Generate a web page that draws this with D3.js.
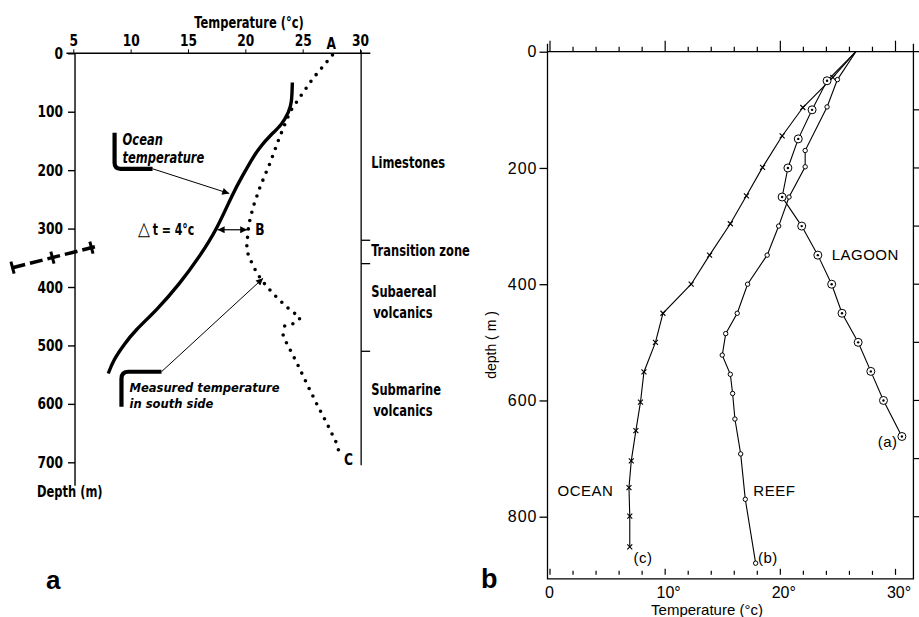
<!DOCTYPE html>
<html>
<head>
<meta charset="utf-8">
<script src="https://cdn.jsdelivr.net/npm/d3@7"></script>
<style>
  body { margin: 0; background: #fff; }
  svg { display: block; }
</style>
</head>
<body>
<div id="chart"></div>
<script>
// ---------- panel a data ----------
const aTempTicks = [5, 10, 15, 20, 25, 30];
const aDepthTicks = [0, 100, 200, 300, 400, 500, 600, 700];

// solid "ocean temperature" curve (temp, depth)
const oceanATemp  = [24.1, 24.05, 23.8, 23.2, 22.2, 21.3, 20.7, 19.8, 18.9, 17.5, 16.0, 14.3, 12.3, 10.4, 9.4, 8.5, 8.05];
const oceanADepth = [50, 85, 100, 122, 140, 160, 177, 208, 240, 302, 348, 394, 439, 474, 499, 525, 548];

// dotted measured temperature, upper part (A -> B -> hook)
const measTemp1  = [27.6, 25.9, 24.8, 23.9, 23.0, 22.15, 21.3, 20.7, 20.4, 20.25, 20.1, 20.7, 21.4, 22.4, 23.6, 24.8, 24.3, 23.2];
const measDepth1 = [3, 43, 74, 100, 143, 188, 228, 262, 285, 302, 337, 365, 388, 411, 434, 453, 462, 468];
// dotted measured temperature, lower part (-> C)
const measTemp2  = [23.3, 23.6, 24.5, 25.35, 26.2, 27.1, 27.95, 28.25];
const measDepth2 = [482, 496, 530, 565, 599, 633, 667, 688];

const zoneBounds = [320, 360, 510];
const zoneLabels = [
  { text: "Limestones", depth: 188 },
  { text: "Transition zone", depth: 338 },
  { text: "Subaereal", depth: 408 },
  { text: "volcanics", depth: 444, indent: 2 },
  { text: "Submarine", depth: 576 },
  { text: "volcanics", depth: 612, indent: 2 }
];
const unconformity = [[-0.3, 367], [7.1, 330]];

// ---------- panel b data ----------
const lagoonTemp  = [26.6, 24.1, 22.8, 21.6, 20.7, 20.2, 21.9, 23.3, 24.5, 25.4, 26.8, 27.9, 29.0, 30.6];
const lagoonDepth = [0, 50, 100, 150, 200, 250, 300, 350, 400, 450, 500, 550, 600, 662];

const reefTemp  = [26.6, 25.0, 24.1, 22.2, 22.2, 20.8, 19.9, 18.9, 17.2, 16.3, 15.3, 15.0, 15.7, 15.9, 16.1, 16.6, 17.0, 17.9];
const reefDepth = [0, 48, 95, 170, 198, 250, 300, 350, 400, 450, 485, 522, 555, 588, 632, 692, 770, 880];

const oceanBTemp  = [26.6, 24.6, 22.0, 20.2, 18.5, 17.1, 15.7, 13.9, 12.3, 9.85, 9.2, 8.2, 7.9, 7.5, 7.1, 6.9, 6.97, 6.97];
const oceanBDepth = [0, 44, 96, 145, 199, 248, 296, 350, 400, 450, 500, 551, 603, 652, 704, 750, 799, 852];

const bTempTicks = d3.range(0, 32, 2);
const bTempLabels = [0, 10, 20, 30];
const bDepthTicks = [0, 200, 400, 600, 800];

const zip = (t, d) => t.map((v, i) => [v, d[i]]);

const W = 919, H = 617;
const narrow = "'Liberation Sans Narrow', 'DejaVu Sans Condensed', 'Arial Narrow', sans-serif";
const sans = "'Liberation Sans', Arial, Helvetica, sans-serif";

const svg = d3.select("#chart").append("svg")
  .attr("width", W).attr("height", H)
  .style("font-family", sans);

const defs = svg.append("defs");
defs.append("marker")
  .attr("id", "arrow")
  .attr("viewBox", "0 0 10 10")
  .attr("refX", 10).attr("refY", 5)
  .attr("markerWidth", 9).attr("markerHeight", 7)
  .attr("markerUnits", "userSpaceOnUse")
  .attr("orient", "auto-start-reverse")
  .append("path").attr("d", "M0,0L10,5L0,10z").attr("fill", "#000");

// ================= PANEL A =================
const xA = d3.scaleLinear().domain([5, 30]).range([73.3, 360]);
const yA = d3.scaleLinear().domain([0, 700]).range([53.3, 462.3]);
const gA = svg.append("g").style("font-family", narrow).style("font-weight", "bold");

// top axis
const topA = gA.append("g")
  .attr("transform", `translate(0,${yA(0)})`)
  .call(d3.axisTop(xA).tickValues(aTempTicks).tickSize(4).tickPadding(3));
topA.select(".domain").remove();
topA.selectAll("text").style("font-size", "16px").style("font-family", narrow).style("font-weight", "bold");
gA.append("line")
  .attr("x1", xA(4.4)).attr("x2", xA(30.9))
  .attr("y1", yA(0)).attr("y2", yA(0))
  .attr("stroke", "#000").attr("stroke-width", 1.4);

gA.append("text")
  .attr("x", 249).attr("y", 28)
  .attr("text-anchor", "middle")
  .style("font-size", "15px")
  .text("Temperature (°c)");

// left axis
const leftA = gA.append("g")
  .attr("transform", `translate(${xA(5.15)},0)`)
  .call(d3.axisLeft(yA).tickValues(aDepthTicks).tickSize(7).tickPadding(5));
leftA.select(".domain").remove();
leftA.selectAll("text").style("font-size", "16px").style("font-family", narrow).style("font-weight", "bold");
leftA.selectAll("line").attr("stroke-width", 1.4);
gA.append("line")
  .attr("x1", xA(5.15)).attr("x2", xA(5.15))
  .attr("y1", yA(0)).attr("y2", yA(740))
  .attr("stroke", "#000").attr("stroke-width", 1.4);

gA.append("text")
  .attr("x", 37).attr("y", 497)
  .style("font-size", "15px")
  .text("Depth (m)");

// right border with geology zones
gA.append("line")
  .attr("x1", xA(30.1)).attr("x2", xA(30.1))
  .attr("y1", yA(0) - 3).attr("y2", yA(705))
  .attr("stroke", "#000").attr("stroke-width", 1.3);
gA.selectAll(".zoneTick")
  .data(zoneBounds)
  .join("line")
  .attr("x1", xA(30.1)).attr("x2", xA(30.1) + 9)
  .attr("y1", d => yA(d)).attr("y2", d => yA(d))
  .attr("stroke", "#000").attr("stroke-width", 1.3);
gA.selectAll(".zoneLabel")
  .data(zoneLabels)
  .join("text")
  .attr("x", d => xA(30.1) + 10 + (d.indent || 0))
  .attr("y", d => yA(d.depth) + 5)
  .style("font-size", "15px")
  .text(d => d.text);

// curves
gA.append("path")
  .datum(zip(oceanATemp, oceanADepth))
  .attr("d", d3.line().x(d => xA(d[0])).y(d => yA(d[1])).curve(d3.curveBasis))
  .attr("fill", "none").attr("stroke", "#000").attr("stroke-width", 3.4);

[zip(measTemp1, measDepth1), zip(measTemp2, measDepth2)].forEach(seg => {
  gA.append("path")
    .datum(seg)
    .attr("d", d3.line().x(d => xA(d[0])).y(d => yA(d[1])).curve(d3.curveLinear))
    .attr("fill", "none").attr("stroke", "#000")
    .attr("stroke-width", 3.6)
    .attr("stroke-linecap", "round")
    .attr("stroke-dasharray", "0 8.5");
});

// point labels A, B, C
gA.append("text").attr("x", xA(27.6) - 6).attr("y", yA(0) - 4).style("font-size", "16px").text("A");
gA.append("text").attr("x", xA(20.25) + 7).attr("y", yA(300) + 6).style("font-size", "16px").text("B");
gA.append("text").attr("x", xA(28.25) + 4).attr("y", yA(700) + 3).style("font-size", "16px").text("C");

// delta t annotation
const dt = gA.append("text")
  .attr("x", 138).attr("y", yA(302) + 5)
  .style("font-size", "15px");
dt.append("tspan").style("font-weight", "normal").style("font-size", "19px").style("font-family", sans).text("△");
dt.append("tspan").attr("dx", 3).text("t = 4°c");
gA.append("line")
  .attr("x1", xA(17.5) + 1).attr("x2", xA(20.25) - 1)
  .attr("y1", yA(302)).attr("y2", yA(302))
  .attr("stroke", "#000").attr("stroke-width", 1.2)
  .attr("marker-start", "url(#arrow)").attr("marker-end", "url(#arrow)");

// ocean temperature label
const oceanLbl = gA.append("g").attr("transform", `translate(${xA(8.6)},${yA(160)})`);
oceanLbl.append("path")
  .attr("d", "M0,-14V16Q0,22 6,22H38")
  .attr("fill", "none").attr("stroke", "#000").attr("stroke-width", 4.2);
oceanLbl.append("text").attr("x", 8).attr("y", -2)
  .style("font-size", "15px").style("font-style", "italic").text("Ocean");
oceanLbl.append("text").attr("x", 8).attr("y", 16)
  .style("font-size", "15px").style("font-style", "italic").text("temperature");
gA.append("line")
  .attr("x1", xA(8.6) + 38).attr("y1", yA(160) + 22)
  .attr("x2", xA(18.6)).attr("y2", yA(240))
  .attr("stroke", "#000").attr("stroke-width", 1)
  .attr("marker-end", "url(#arrow)");

// measured temperature label
const measLbl = gA.append("g").attr("transform", `translate(${xA(9.2)},${yA(545)})`);
measLbl.append("path")
  .attr("d", "M0,35V7Q0,0 7,0H40")
  .attr("fill", "none").attr("stroke", "#000").attr("stroke-width", 4.2);
measLbl.append("text").attr("x", 8).attr("y", 20)
  .style("font-size", "13px").style("font-style", "italic").text("Measured temperature");
measLbl.append("text").attr("x", 8).attr("y", 36)
  .style("font-size", "13px").style("font-style", "italic").text("in south side");
gA.append("line")
  .attr("x1", xA(9.2) + 40).attr("y1", yA(545))
  .attr("x2", xA(21.55)).attr("y2", yA(385))
  .attr("stroke", "#000").attr("stroke-width", 1)
  .attr("marker-end", "url(#arrow)");

// unconformity symbol
const u0 = [xA(unconformity[0][0]), yA(unconformity[0][1])];
const u1 = [xA(unconformity[1][0]), yA(unconformity[1][1])];
gA.append("line")
  .attr("x1", u0[0]).attr("y1", u0[1]).attr("x2", u1[0]).attr("y2", u1[1])
  .attr("stroke", "#000").attr("stroke-width", 3.5)
  .attr("stroke-dasharray", "13 5");
[0, 0.47, 0.93].forEach(t => {
  const cx = u0[0] + (u1[0] - u0[0]) * t, cy = u0[1] + (u1[1] - u0[1]) * t;
  gA.append("line")
    .attr("x1", cx - 1.6).attr("y1", cy - 6).attr("x2", cx + 1.6).attr("y2", cy + 6)
    .attr("stroke", "#000").attr("stroke-width", 3);
});

// squeeze panel a texts to look like a condensed face
gA.selectAll("text").each(function () {
  const len = this.getComputedTextLength();
  if (len > 0) d3.select(this).attr("textLength", len * 0.85).attr("lengthAdjust", "spacingAndGlyphs");
});
// the measured-temperature lines are wider in the original
measLbl.selectAll("text").each(function (d, i) {
  d3.select(this).attr("textLength", i === 0 ? 150 : 84);
});

gA.append("text").attr("x", 46).attr("y", 589)
  .style("font-family", sans).style("font-size", "26px").text("a");

// ================= PANEL B =================
const xB = d3.scaleLinear().domain([0, 30]).range([549.5, 895]);
const yB = d3.scaleLinear().domain([0, 800]).range([51.7, 516.7]);
const gB = svg.append("g");
const xRight = xB(31.6), yBottom = yB(900);

// frame
gB.append("path")
  .attr("d", `M${xB(0) - 2},${yB(0)}H${xRight + 6}M${xB(0) - 2},${yB(0) - 8}V${yBottom + 4}H${xRight}V${yB(0) - 8}`)
  .attr("fill", "none").attr("stroke", "#000").attr("stroke-width", 1.3);

// top ticks
const topB = gB.append("g").attr("transform", `translate(0,${yB(0)})`)
  .call(d3.axisTop(xB).tickValues(bTempTicks).tickSize(5).tickFormat(""));
topB.select(".domain").remove();
topB.selectAll(".tick line").attr("y2", d => d % 10 === 0 ? -11 : -5).attr("stroke-width", 1.2);

// bottom ticks + labels
const botB = gB.append("g").attr("transform", `translate(0,${yBottom})`)
  .call(d3.axisBottom(xB).tickValues(bTempTicks).tickSize(0).tickFormat(""));
botB.select(".domain").remove();
botB.selectAll(".tick line").attr("y2", d => d % 10 === 0 ? -6 : -4).attr("stroke-width", 1.2);
gB.selectAll(".bLabel")
  .data(bTempLabels)
  .join("text")
  .attr("x", d => xB(d) + (d === 0 ? 0 : 4))
  .attr("y", yBottom + 23)
  .attr("text-anchor", "middle")
  .style("font-size", "16px")
  .text(d => d === 0 ? "0" : d + "°");

gB.append("text")
  .attr("x", 707).attr("y", 615)
  .attr("text-anchor", "middle")
  .style("font-size", "15px")
  .text("Temperature (°c)");

// left axis
const leftB = gB.append("g").attr("transform", `translate(${xB(0) - 2},0)`)
  .call(d3.axisLeft(yB).tickValues(bDepthTicks).tickSize(8).tickPadding(2));
leftB.select(".domain").remove();
leftB.selectAll("line").attr("stroke-width", 1.3);
leftB.selectAll("text").style("font-size", "16px").style("font-family", sans).style("letter-spacing", "1px");

// right ticks
gB.selectAll(".rTick")
  .data(d3.range(100, 900, 100))
  .join("line")
  .attr("x1", xRight).attr("x2", xRight + 6)
  .attr("y1", d => yB(d)).attr("y2", d => yB(d))
  .attr("stroke", "#000").attr("stroke-width", 1.2);

gB.append("text")
  .attr("transform", `translate(496,345) rotate(-90)`)
  .attr("text-anchor", "middle")
  .style("font-size", "14px")
  .text("depth ( m )");

const lineB = d3.line().x(d => xB(d[0])).y(d => yB(d[1]));
const lagoon = zip(lagoonTemp, lagoonDepth);
const reef = zip(reefTemp, reefDepth);
const oceanB = zip(oceanBTemp, oceanBDepth);

[lagoon, reef, oceanB].forEach(s => {
  gB.append("path").datum(s).attr("d", lineB)
    .attr("fill", "none").attr("stroke", "#000").attr("stroke-width", 1.1);
});

// lagoon markers: circled dot
const lg = gB.selectAll(".lag").data(lagoon.slice(1)).join("g")
  .attr("transform", d => `translate(${xB(d[0])},${yB(d[1])})`);
lg.append("circle").attr("r", 4).attr("fill", "#fff").attr("stroke", "#000").attr("stroke-width", 1);
lg.append("circle").attr("r", 1.2).attr("fill", "#000");

// reef markers: small open circle
gB.selectAll(".reef").data(reef.slice(1)).join("circle")
  .attr("cx", d => xB(d[0])).attr("cy", d => yB(d[1]))
  .attr("r", 2.2).attr("fill", "#fff").attr("stroke", "#000").attr("stroke-width", 1);

// ocean markers: x
gB.selectAll(".oc").data(oceanB.slice(1)).join("path")
  .attr("d", d => { const x = xB(d[0]), y = yB(d[1]); return `M${x - 2.5},${y - 2.5}L${x + 2.5},${y + 2.5}M${x - 2.5},${y + 2.5}L${x + 2.5},${y - 2.5}`; })
  .attr("stroke", "#000").attr("stroke-width", 1.1);

const bLabels = [
  { t: "LAGOON", x: 24.5, d: 359 },
  { t: "(a)", x: 28.5, d: 680 },
  { t: "OCEAN", x: 0.7, d: 765 },
  { t: "REEF", x: 17.7, d: 765 },
  { t: "(c)", x: 7.3, d: 879 },
  { t: "(b)", x: 18.1, d: 879 }
];
gB.selectAll(".cl").data(bLabels).join("text")
  .attr("x", d => xB(d.x)).attr("y", d => yB(d.d))
  .style("font-size", "15px")
  .style("letter-spacing", "0.5px")
  .text(d => d.t);

gB.append("text").attr("x", 481).attr("y", 588)
  .style("font-size", "27px").style("font-weight", "bold").text("b");
</script>
</body>
</html>
